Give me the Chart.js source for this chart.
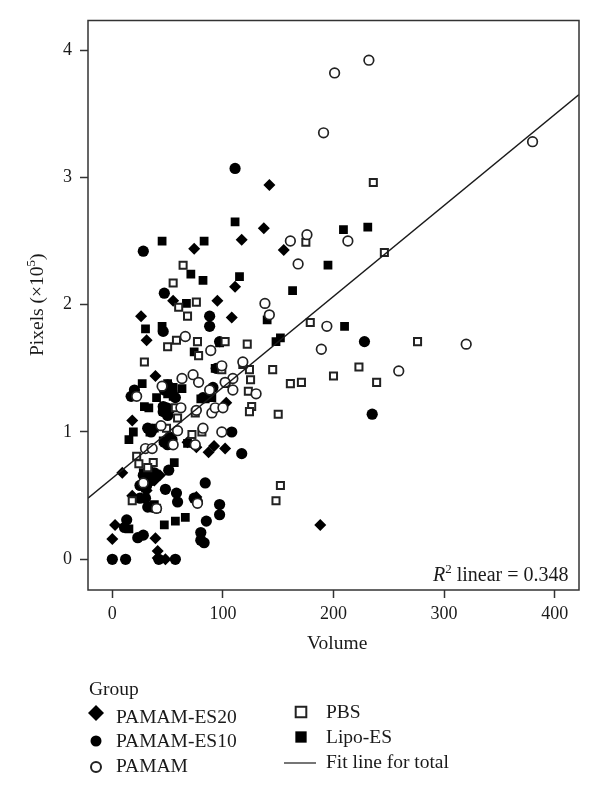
<!DOCTYPE html>
<html>
<head>
<meta charset="utf-8">
<title>Pixels vs Volume</title>
<script src="https://cdn.jsdelivr.net/npm/chart.js@4/dist/chart.umd.min.js"></script>
<style>
    html, body { margin: 0; padding: 0; background: #fff; }
    #wrap { width: 600px; height: 800px; }
</style>
</head>
<body>
<div id="wrap"><canvas id="scatter" width="600" height="800"></canvas></div>
<script>
const xTicks = [0, 100, 200, 300, 400];
const yTicks = [0, 1, 2, 3, 4];
const fitX = [-22, 422];
const fitY = [0.48, 3.65];
const xLabel = "Volume";
const legendTitle = "Group";
const rSquared = "linear = 0.348";

const es20 = [[142,2.94],[117,2.51],[137,2.60],[74,2.44],[155,2.43],[111,2.14],[55,2.03],[95,2.03],[26,1.91],[108,1.90],
    [31,1.72],[39,1.44],[18,1.09],[103,1.23],[9,0.68],[92,0.89],[87,0.84],[102,0.87],[2.5,0.27],[0,0.16],[39,0.165],
    [41,0.065],[41,0.01],[48,0],[76,0.49],[18,0.5],[31,0.54],[43,0.66],[38,0.62],[188,0.27],[68,0.92],[76,0.88],[33,0.71]];
const es10 = [[111,3.07],[28,2.42],[47,2.09],[88,1.91],[88,1.83],[46,1.79],[97,1.71],[94,1.50],[17,1.28],[20,1.33],
    [50,1.37],[54,1.31],[57,1.27],[49,1.19],[46,1.16],[50,1.13],[82,1.27],[91,1.35],[36,1.02],[32,1.03],[108,1.00],
    [49,0.92],[54,0.94],[47,0.92],[117,0.83],[51,0.70],[84,0.60],[25,0.58],[36,0.62],[31,0.58],[48,0.55],[58,0.52],
    [59,0.45],[74,0.48],[77,0.45],[97,0.43],[97,0.35],[85,0.30],[80,0.21],[80,0.15],[83,0.13],[23,0.17],[28,0.19],
    [13,0.31],[11,0.25],[0,0],[12,0],[42,0],[57,0],[25,0.48],[30,0.48],[32,0.41],[36,0.41],[228,1.71],[235,1.14],
    [28,0.66],[32,0.62],[38,0.68],[47,1.33],[46,1.20],[52,1.18],[35,1.00],[52,0.96],[50,0.90]];
const pamam = [[201,3.82],[232,3.92],[191,3.35],[380,3.28],[161,2.50],[176,2.55],[213,2.50],[168,2.32],[138,2.01],[142,1.92],
    [194,1.83],[189,1.65],[259,1.48],[320,1.69],[130,1.30],[66,1.75],[89,1.64],[99,1.52],[73,1.45],[78,1.39],[63,1.42],
    [45,1.36],[22,1.28],[88,1.33],[109,1.42],[109,1.33],[102,1.39],[62,1.19],[76,1.17],[90,1.15],[93,1.19],[100,1.19],
    [44,1.05],[59,1.01],[82,1.03],[99,1.00],[118,1.55],[30,0.87],[36,0.87],[55,0.90],[75,0.90],[77,0.44],[40,0.40],[28,0.60]];
const pbs = [[236,2.96],[246,2.41],[175,2.49],[276,1.71],[179,1.86],[223,1.51],[239,1.39],[200,1.44],[171,1.39],[161,1.38],
    [145,1.49],[122,1.69],[124,1.49],[125,1.41],[123,1.32],[126,1.20],[124,1.16],[150,1.14],[152,0.58],[148,0.46],
    [64,2.31],[55,2.17],[76,2.02],[60,1.98],[68,1.91],[58,1.72],[50,1.67],[77,1.71],[78,1.60],[102,1.71],[29,1.55],
    [99,1.49],[118,1.53],[57,1.19],[75,1.15],[59,1.11],[49,1.03],[72,0.98],[81,1.00],[22,0.81],[24,0.75],[37,0.76],
    [32,0.72],[18,0.46],[40,0.40]];
const lipo = [[111,2.65],[45,2.50],[83,2.50],[71,2.24],[82,2.19],[115,2.22],[67,2.01],[209,2.59],[231,2.61],[195,2.31],
    [163,2.11],[210,1.83],[140,1.88],[148,1.71],[152,1.74],[30,1.81],[45,1.83],[74,1.63],[97,1.70],[93,1.50],[27,1.38],
    [50,1.38],[63,1.34],[55,1.28],[40,1.27],[29,1.20],[33,1.19],[46,1.16],[50,1.15],[84,1.26],[103,1.38],[19,1.00],
    [15,0.94],[34,1.00],[68,0.91],[56,0.76],[28,0.68],[32,0.65],[36,0.66],[15,0.24],[47,0.27],[57,0.30],[66,0.33],
    [38,0.43],[30,0.56],[50,1.30],[55,1.35],[80,1.26],[90,1.27],[38,1.03],[46,0.93]];

const INK = "#1a1a1a";
const FONT = "'Liberation Serif', serif";

function toPoints(list) {
    return list.map(function (p) { return { x: p[0], y: p[1] }; });
}

function markerSet(label, list, style, radius, open) {
    return {
        type: "scatter",
        label: label,
        data: toPoints(list),
        pointStyle: style,
        pointRadius: radius,
        pointHoverRadius: radius,
        pointBackgroundColor: open ? "#fff" : "#000",
        pointBorderColor: open ? "#222" : "#000",
        pointBorderWidth: open ? (style === "rect" ? 2 : 1.7) : 0,
    };
}

function drawSuperText(ctx, parts, x, y) {
    // parts run left to right, some of them raised
    parts.forEach(function (part) {
        ctx.font = (part.italic ? "italic " : "") + part.size + "px " + FONT;
        ctx.fillText(part.text, x, y - (part.raise || 0));
        x += ctx.measureText(part.text).width + (part.gap || 0);
    });
}

function drawLegendMark(ctx, style, radius, x, y, open, width) {
    ctx.save();
    ctx.fillStyle = open ? "#fff" : "#000";
    ctx.strokeStyle = open ? "#222" : "#000";
    ctx.lineWidth = open ? width : 0;
    Chart.helpers.drawPoint(ctx, { pointStyle: style, radius: radius, rotation: 0, borderWidth: open ? width : 0 }, x, y);
    ctx.restore();
}

const decorPlugin = {
    id: "decor",
    afterDraw: function (chart) {
        const ctx = chart.ctx;
        const area = chart.chartArea;
        ctx.save();
        ctx.strokeStyle = "#333";
        ctx.lineWidth = 1.5;
        ctx.strokeRect(area.left, area.top, area.right - area.left, area.bottom - area.top);

        ctx.fillStyle = INK;
        ctx.textBaseline = "alphabetic";
        ctx.textAlign = "left";

        // axis titles
        ctx.font = "19.5px " + FONT;
        ctx.fillText(xLabel, 307, 649);
        ctx.save();
        ctx.translate(43, 356);
        ctx.rotate(-Math.PI / 2);
        drawSuperText(ctx, [
            { text: "Pixels (×10", size: 19.5 },
            { text: "5", size: 13, raise: 8 },
            { text: ")", size: 19.5 },
        ], 0, 0);
        ctx.restore();

        // R squared note
        drawSuperText(ctx, [
            { text: "R", size: 20, italic: true },
            { text: "2", size: 13, raise: 8, gap: 5 },
            { text: rSquared, size: 20 },
        ], 433, 581);

        // legend
        ctx.font = "19.5px " + FONT;
        ctx.fillText(legendTitle, 89, 695);
        ctx.fillText("PAMAM-ES20", 116, 722.5);
        ctx.fillText("PAMAM-ES10", 116, 747);
        ctx.fillText("PAMAM", 116, 772);
        ctx.fillText("PBS", 326, 718);
        ctx.fillText("Lipo-ES", 326, 743);
        ctx.fillText("Fit line for total", 326, 768);
        drawLegendMark(ctx, "rectRot", 8, 96, 713, false, 0);
        drawLegendMark(ctx, "circle", 5.5, 96, 741, false, 0);
        drawLegendMark(ctx, "circle", 5, 96, 767, true, 2);
        drawLegendMark(ctx, "rect", 7.5, 301, 712, true, 2);
        drawLegendMark(ctx, "rect", 8, 301, 737, false, 0);
        ctx.strokeStyle = INK;
        ctx.lineWidth = 1.2;
        ctx.beginPath();
        ctx.moveTo(284, 763);
        ctx.lineTo(316, 763);
        ctx.stroke();
        ctx.restore();
    }
};

new Chart(document.getElementById("scatter"), {
    type: "scatter",
    data: {
        datasets: [
            {
                type: "line",
                label: "Fit line for total",
                data: fitX.map(function (x, i) { return { x: x, y: fitY[i] }; }),
                borderColor: "#1a1a1a",
                borderWidth: 1.3,
                pointRadius: 0,
                showLine: true,
                fill: false,
            },
            markerSet("PAMAM", pamam, "circle", 4.8, true),
            markerSet("PBS", pbs, "rect", 5, true),
            markerSet("PAMAM-ES10", es10, "circle", 5.6, false),
            markerSet("Lipo-ES", lipo, "rect", 6.2, false),
            markerSet("PAMAM-ES20", es20, "rectRot", 6, false),
        ]
    },
    options: {
        responsive: false,
        animation: false,
        layout: { padding: { top: 20.5, right: 21, left: 0, bottom: 0 } },
        plugins: { legend: { display: false }, title: { display: false }, tooltip: { enabled: false } },
        scales: {
            x: {
                type: "linear",
                min: -22,
                max: 422,
                afterBuildTicks: function (scale) {
                    scale.ticks = xTicks.map(function (v) { return { value: v }; });
                },
                afterFit: function (scale) { scale.height = 210; },
                grid: { drawOnChartArea: false, drawTicks: true, tickLength: 8, tickColor: "#333", tickWidth: 1.5 },
                border: { display: false },
                ticks: { color: INK, padding: 5, maxRotation: 0, font: { family: FONT, size: 18 } },
            },
            y: {
                type: "linear",
                min: -0.241,
                max: 4.232,
                afterBuildTicks: function (scale) {
                    scale.ticks = yTicks.map(function (v) { return { value: v }; });
                },
                afterFit: function (scale) { scale.width = 88; },
                grid: { drawOnChartArea: false, drawTicks: true, tickLength: 8, tickColor: "#333", tickWidth: 1.5 },
                border: { display: false },
                ticks: { color: INK, padding: 8, font: { family: FONT, size: 18 } },
            }
        }
    },
    plugins: [decorPlugin]
});
</script>
</body>
</html>
